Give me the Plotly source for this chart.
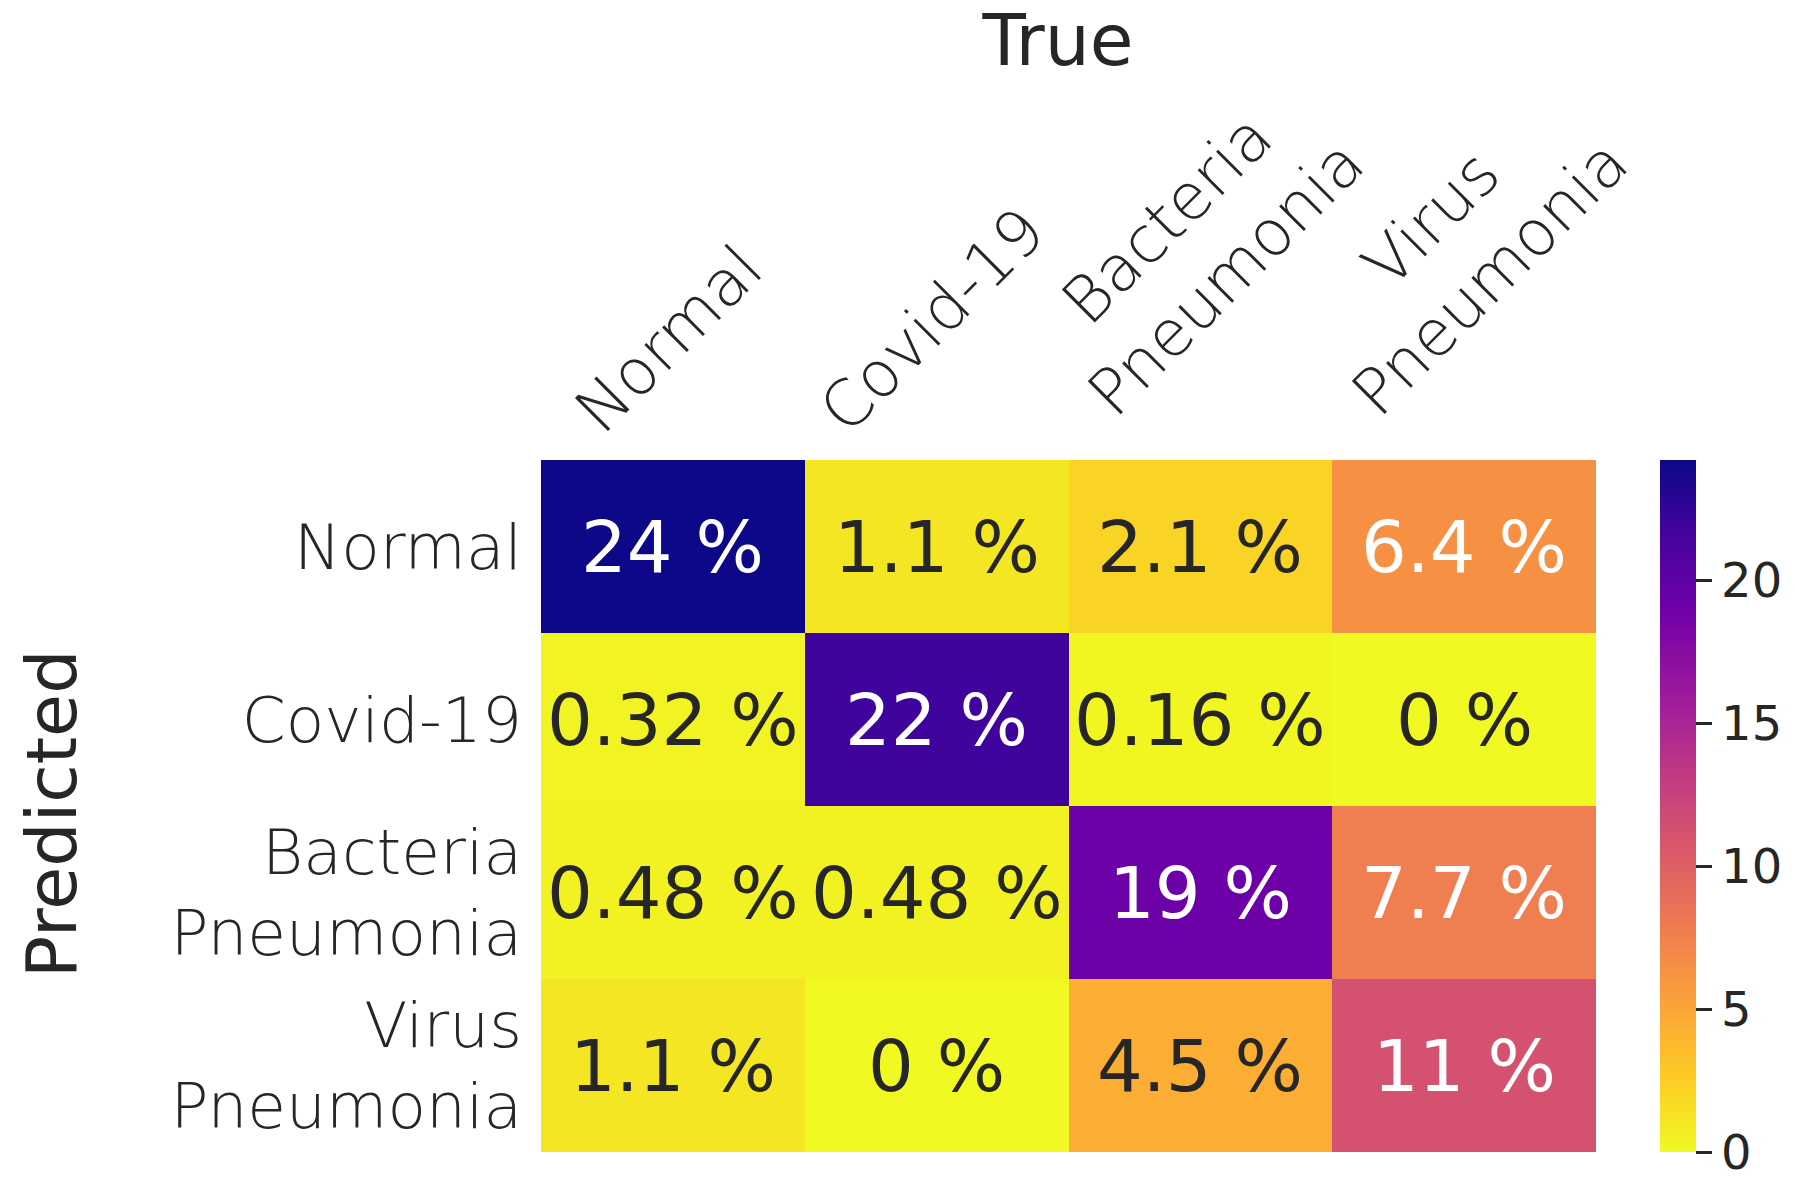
import plotly.graph_objects as go

# ---- data ----
true_labels = ["Normal", "Covid-19", "Bacteria<br>Pneumonia", "Virus<br>Pneumonia"]
pred_labels = ["Normal", "Covid-19", "Bacteria<br>Pneumonia", "Virus<br>Pneumonia"]
row_normal = [24.2, 1.1, 2.1, 6.4]
row_covid = [0.32, 21.9, 0.16, 0.0]
row_bacteria = [0.48, 0.48, 19.2, 7.7]
row_virus = [1.1, 0.0, 4.5, 11.2]
cbar_ticks = [0, 5, 10, 15, 20]

z = [row_normal, row_covid, row_bacteria, row_virus]
zmax = max(max(r) for r in z)
ncol, nrow = len(true_labels), len(pred_labels)

DARK = "#262626"
LIGHT_FONT = "DejaVu Sans ExtraLight, DejaVu Sans Light, DejaVu Sans"

# page body has an 8px margin; the figure is sized to fit the window
OFF = 8
W, H = 1795 - OFF, 1182 - OFF
L, T = 541 - OFF, 460 - OFF
R, B = W - (1596 - OFF), H - (1152 - OFF)
PW, PH = W - L - R, H - T - B

fig = go.Figure(
    go.Heatmap(
        z=z,
        x=true_labels,
        y=pred_labels,
        colorscale="Plasma",
        reversescale=True,
        zmin=0,
        zmax=zmax,
        hoverinfo="skip",
        colorbar=dict(
            x=(1660 - 541) / PW,
            xanchor="left",
            xpad=0,
            ypad=0,
            y=0.5,
            yanchor="middle",
            len=1,
            lenmode="fraction",
            thickness=36,
            thicknessmode="pixels",
            outlinewidth=0,
            ticks="outside",
            ticklen=16,
            tickwidth=3,
            tickcolor=DARK,
            tickvals=cbar_ticks,
            tickfont=dict(family="DejaVu Sans", size=48, color=DARK),
        ),
    )
)

annotations = []
for i, row in enumerate(z):
    for j, v in enumerate(row):
        annotations.append(
            dict(
                x=true_labels[j],
                y=pred_labels[i],
                xref="x",
                yref="y",
                text=format(v, ".2g") + " %",
                showarrow=False,
                font=dict(family="DejaVu Sans", size=72, color="white" if v >= 5 else DARK),
            )
        )

for lab in true_labels:
    nlines = lab.count("<br>") + 1
    annotations.append(
        dict(
            x=lab,
            xref="x",
            y=1,
            yref="paper",
            xshift=-4,
            yshift=10 + 17 * (nlines - 1),
            xanchor="center",
            yanchor="bottom",
            textangle=-45,
            text=lab,
            showarrow=False,
            align="center",
            font=dict(family=LIGHT_FONT, size=64, color=DARK, weight=200),
        )
    )

annotations.append(
    dict(
        x=(52 - 541) / PW,
        xref="paper",
        y=(1152 - 814) / PH,
        yref="paper",
        xanchor="center",
        yanchor="middle",
        textangle=-90,
        text="Predicted",
        showarrow=False,
        font=dict(family="DejaVu Sans", size=70, color=DARK),
    )
)

fig.update_layout(
    width=W,
    height=H,
    margin=dict(l=L, r=R, t=T, b=B, pad=0, autoexpand=False),
    paper_bgcolor="white",
    plot_bgcolor="white",
    title=dict(
        text="True",
        x=(1058 - 541) / PW,
        xref="paper",
        xanchor="center",
        y=1 - (40 - OFF) / H,
        yref="container",
        yanchor="middle",
        font=dict(family="DejaVu Sans", size=71, color=DARK),
    ),
    xaxis=dict(
        side="top",
        range=[-0.5, ncol - 0.5],
        autorange=False,
        showticklabels=False,
        ticks="",
        showgrid=False,
        zeroline=False,
        showline=False,
    ),
    yaxis=dict(
        range=[nrow - 0.5, -0.5],
        autorange=False,
        ticks="",
        ticklabelstandoff=18,
        tickfont=dict(family=LIGHT_FONT, size=63, color=DARK, weight=200),
        showgrid=False,
        zeroline=False,
        showline=False,
    ),
    annotations=annotations,
)

fig.write_html("out.html")
